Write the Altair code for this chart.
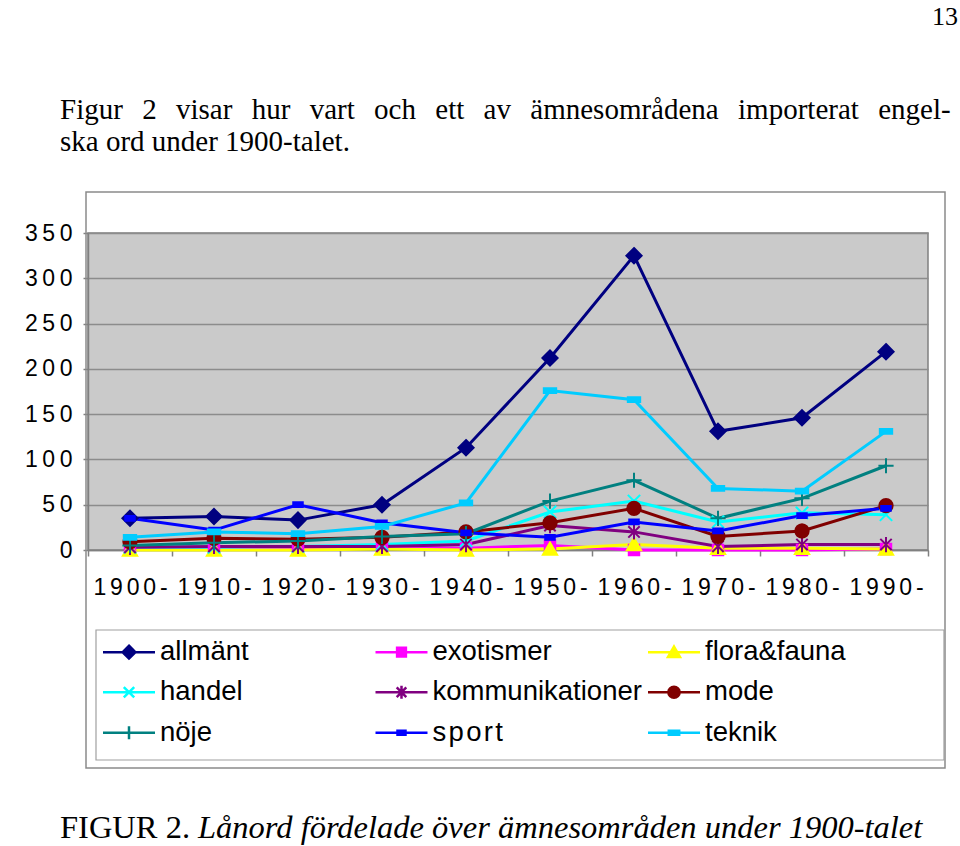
import math
import altair as alt
import pandas as pd

# ---------------- data ----------------
decades = ["1900-", "1910-", "1920-", "1930-", "1940-", "1950-", "1960-", "1970-", "1980-", "1990-"]
series = ["allmänt", "exotismer", "flora&fauna", "handel", "kommunikationer", "mode", "nöje", "sport", "teknik"]

allmant = [35, 37, 33, 50, 113, 212, 325, 131, 146, 219]
exotismer = [2, 1, 1, 3, 2, 5, 0, 0, 0, 1]
flora_fauna = [0, 0, 0, 1, 0, 1, 6, 2, 2, 1]
handel = [3, 3, 4, 6, 10, 42, 54, 31, 41, 39]
kommunikationer = [3, 4, 4, 4, 6, 27, 20, 4, 6, 6]
mode = [9, 13, 12, 14, 20, 30, 46, 15, 21, 49]
noje = [5, 8, 10, 15, 18, 54, 77, 35, 57, 93]
sport = [35, 22, 50, 30, 19, 14, 31, 21, 38, 46]
teknik = [14, 20, 18, 26, 52, 176, 166, 68, 65, 131]

y_ticks = [0, 50, 100, 150, 200, 250, 300, 350]

colors = ["#000080", "#FF00FF", "#FFFF00", "#00FFFF", "#800080",
          "#800000", "#008080", "#0000FF", "#00CCFF"]

series_values = [allmant, exotismer, flora_fauna, handel, kommunikationer,
                 mode, noje, sport, teknik]

rows = []
for s, vals in zip(series, series_values):
    for d, v in zip(decades, vals):
        rows.append({"decade": d, "series": s, "value": v})
df = pd.DataFrame(rows)

# ---------------- marker shapes (pixel geometry -> unit paths) ----------------
def circle_pts(r, n=16):
    return [(r * math.cos(2 * math.pi * i / n), r * math.sin(2 * math.pi * i / n)) for i in range(n)]

def geom(name, k):
    if name == "allmänt":
        return [([(0, -8 * k), (8 * k, 0), (0, 8 * k), (-8 * k, 0)], True)]
    if name == "exotismer":
        a = 5.5 * k
        return [([(-a, -a), (a, -a), (a, a), (-a, a)], True)]
    if name == "flora&fauna":
        return [([(0, -7 * k), (7.5 * k, 6 * k), (-7.5 * k, 6 * k)], True)]
    if name == "handel":
        a = 6.5 * k
        return [([(-a, -a), (a, a)], False), ([(-a, a), (a, -a)], False)]
    if name == "kommunikationer":
        a = 6 * k
        return [([(-a, -a), (a, a)], False), ([(-a, a), (a, -a)], False),
                ([(0, -8 * k), (0, 8 * k)], False)]
    if name == "mode":
        return [(circle_pts(7 * k), True)]
    if name == "nöje":
        a = 8 * k
        return [([(-a, 0), (a, 0)], False), ([(0, -a), (0, a)], False)]
    if name == "sport":
        return [([(-5 * k, -2.5 * k), (5 * k, -2.5 * k), (5 * k, 2.5 * k), (-5 * k, 2.5 * k)], True)]
    if name == "teknik":
        return [([(-6.5 * k, -2.5 * k), (6.5 * k, -2.5 * k), (6.5 * k, 2.5 * k), (-6.5 * k, 2.5 * k)], True)]
    return []

def to_path(subpaths, unit):
    out = []
    for pts, closed in subpaths:
        s = "M" + "L".join(f"{x / unit:.3f},{y / unit:.3f}" for x, y in pts)
        if closed:
            s += "Z"
        out.append(s)
    return "".join(out)

POINT_SIZE = 100          # unit = 5 px
POINT_UNIT = math.sqrt(POINT_SIZE) / 2
LEG_SIZE = 400            # unit = 10 px
LEG_UNIT = math.sqrt(LEG_SIZE) / 2
LINE_HALF = 26            # px, legend line half length

point_shapes = [to_path(geom(s, 0.95), POINT_UNIT) for s in series]
legend_shapes = [to_path([([(-LINE_HALF, 0), (LINE_HALF, 0)], False)] + geom(s, 0.8), LEG_UNIT)
                 for s in series]

shape_expr = ""
for s, p in zip(series[:-1], legend_shapes[:-1]):
    shape_expr += f"datum.value === '{s}' ? '{p}' : "
shape_expr += f"'{legend_shapes[-1]}'"

legend = alt.Legend(
    title=None, orient="none", legendX=15, legendY=405,
    direction="horizontal", columns=3, gridAlign="all",
    columnPadding=0.5, rowPadding=11.5,
    labelFont="Liberation Sans", labelFontSize=27.5, labelColor="black",
    labelLimit=500, labelOffset=17.25, symbolOffset=12.25,
    symbolSize=LEG_SIZE, symbolStrokeWidth=2.5, symbolOpacity=1,
    symbolType=alt.ExprRef(expr=shape_expr),
    symbolFillColor=alt.ExprRef(expr="scale('color', datum.value)"),
    symbolStrokeColor=alt.ExprRef(expr="scale('color', datum.value)"),
    labelExpr="datum.label === 'sport' ? 's\u200ap\u200ao\u200ar\u200at' : datum.label",
)

x_enc = alt.X(
    "decade:O", sort=decades, bandPosition=0.5,
    scale=alt.Scale(type="band", domain=decades, paddingInner=0, paddingOuter=0),
    axis=alt.Axis(
        title=None, labelAngle=0, labelFont="Liberation Sans", labelFontSize=23,
        labelColor="black", labelPadding=20, tickBand="extent", tickSize=6,
        tickColor="#808080", tickWidth=1.5, domainColor="#808080", domainWidth=1.5,
        grid=False,
        labelExpr="join(split(datum.label, ''), '\u2006')",
    ),
)
y_enc = alt.Y(
    "value:Q",
    scale=alt.Scale(domain=[0, 350], nice=False, zero=True),
    axis=alt.Axis(
        title=None, values=y_ticks, labelFont="Liberation Sans", labelFontSize=23,
        labelColor="black", labelPadding=11, tickSize=5, tickColor="#808080",
        tickWidth=1.5, domainColor="#808080", domainWidth=1.5,
        grid=True, gridColor="#8C8C8C", gridWidth=1.3,
        labelExpr="join(split(datum.label, ''), '\u2009')",
    ),
)
color_enc = alt.Color("series:N", scale=alt.Scale(domain=series, range=colors), legend=legend)

lines = alt.Chart(df).mark_line(strokeWidth=3).encode(
    x=x_enc, y=y_enc, color=color_enc, detail="series:N"
)

point_layers = []
for s, shp, col in zip(series, point_shapes, colors):
    point_layers.append(
        alt.Chart(df)
        .transform_filter(alt.datum.series == s)
        .mark_point(filled=True, size=POINT_SIZE, shape=shp, stroke=col, strokeWidth=2, opacity=1)
        .encode(x=x_enc, y=y_enc, color=color_enc)
    )

one = pd.DataFrame({"k": [0]})

outer_box = alt.Chart(one).mark_rect(fillOpacity=0, stroke="#8A8A8A", strokeWidth=1.5).encode(
    x=alt.value(-2), x2=alt.value(857), y=alt.value(-41), y2=alt.value(535)
)
legend_box = alt.Chart(one).mark_rect(fillOpacity=0, stroke="#A0A0A0", strokeWidth=1.2).encode(
    x=alt.value(8), x2=alt.value(856), y=alt.value(397), y2=alt.value(527)
)

gap = "\u2002\u2006"
title1 = gap.join("Figur 2 visar hur vart och ett av ämnesområdena importerat engel-".split(" "))
title2 = "ska ord under 1900-talet."
cap1 = "FIGUR 2."
cap2 = "Lånord fördelade över ämnesområden under 1900-talet"

def txt(t, x, y, size, align="left", style="normal"):
    return alt.Chart(one).mark_text(
        text=t, align=align, baseline="alphabetic", font="Liberation Serif",
        fontSize=size, fontStyle=style, color="black"
    ).encode(x=alt.value(x), y=alt.value(y))

texts = [
    txt("13", 870, -208, 26, align="right"),
    txt(title1, -28, -114, 29),
    txt(title2, -28, -82, 29),
    txt(cap1, -28, 605, 32.5),
    txt(cap2, 110, 605, 32.5, style="italic"),
]

chart = alt.layer(outer_box, legend_box, lines, *point_layers, *texts).properties(
    width=840, height=317,
    padding={"left": 88, "top": 233, "right": 32, "bottom": 296},
    autosize=alt.AutoSizeParams(type="none"),
    background="white",
).configure_view(fill="#CACACA", stroke="#808080", strokeWidth=1.5)

chart.save("out.html", embed_options={"renderer": "svg", "actions": False})
